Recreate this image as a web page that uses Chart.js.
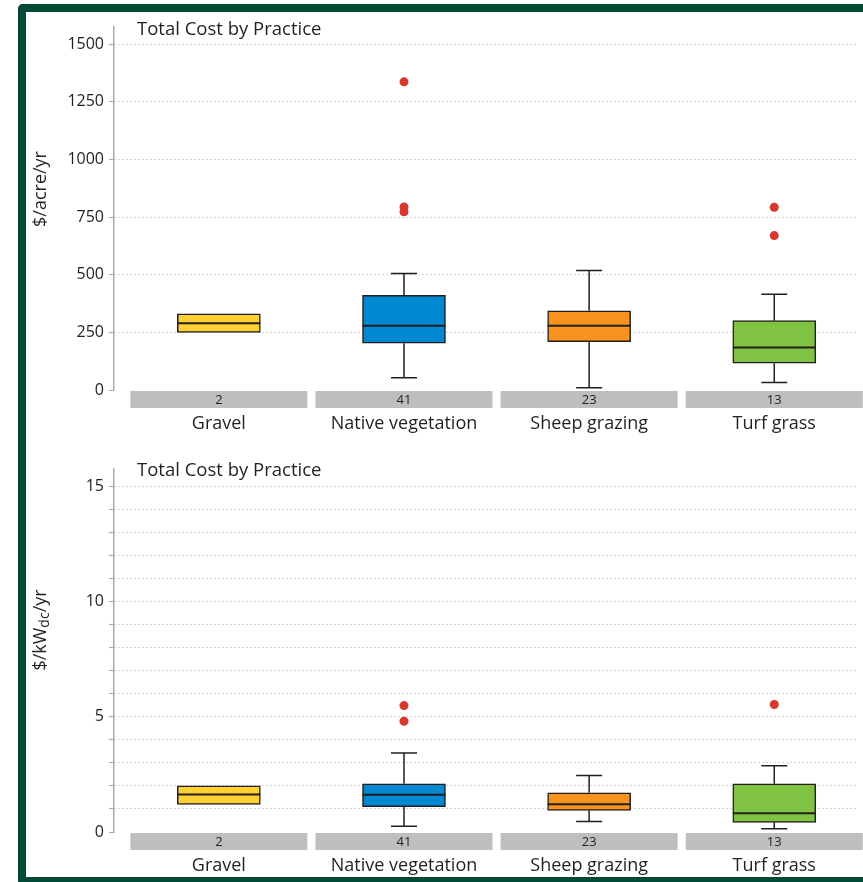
<!DOCTYPE html>
<html>
<head>
<meta charset="utf-8">
<script src="https://cdn.jsdelivr.net/npm/chart.js@4.4.1/dist/chart.umd.min.js"></script>
<style>
  html, body { margin: 0; padding: 0; background: #fff; }
  #wrap { position: relative; width: 863px; height: 882px; overflow: hidden; background: #fff; }
  #wrap canvas { position: absolute; left: 0; }
  #frame {
    position: absolute; left: 18px; top: 4px; width: 900px; height: 865px;
    border: 8px solid #034a36; border-right: none; border-radius: 5px 0 0 5px;
    pointer-events: none;
  }
</style>
</head>
<body>
<div id="wrap">
  <canvas id="acreChart" width="863" height="441" style="top:0"></canvas>
  <canvas id="kwChart" width="863" height="441" style="top:441px"></canvas>
  <div id="frame"></div>
</div>
<script>
const categories = ['Gravel', 'Native vegetation', 'Sheep grazing', 'Turf grass'];
const counts = [2, 41, 23, 13];
const boxColors = ['#fdd034', '#0088d1', '#f7931e', '#80c342'];

// $/acre/yr
const acreMin = [250, 53, 10, 33];
const acreQ1 = [250, 203, 210, 116];
const acreMedian = [290, 279, 279, 184];
const acreQ3 = [330, 411, 344, 301];
const acreMax = [330, 505, 518, 415];
const acreOutliers = [[], [1337, 794, 773], [], [793, 670]];

// $/kWdc/yr
const kwMin = [1.2, 0.25, 0.45, 0.14];
const kwQ1 = [1.2, 1.1, 0.94, 0.42];
const kwMedian = [1.63, 1.62, 1.2, 0.81];
const kwQ3 = [2.0, 2.09, 1.7, 2.09];
const kwMax = [2.0, 3.43, 2.45, 2.87];
const kwOutliers = [[], [5.48, 4.8], [], [5.53]];

const textColor = '#231f20';
Chart.defaults.font.family = '"Open Sans", sans-serif';
Chart.defaults.color = textColor;

// whiskers, caps and median lines
const boxParts = {
  id: 'boxParts',
  afterDatasetsDraw(chart, args, opts) {
    const { ctx, scales: { y } } = chart;
    const bars = chart.getDatasetMeta(0).data;
    ctx.save();
    ctx.strokeStyle = textColor;
    ctx.lineWidth = 1.5;
    bars.forEach((bar, i) => {
      const cx = bar.x;
      const half = bar.width / 2;
      const yq1 = y.getPixelForValue(opts.q1[i]);
      const yq3 = y.getPixelForValue(opts.q3[i]);
      ctx.beginPath();
      if (opts.max[i] > opts.q3[i]) {
        const yMax = y.getPixelForValue(opts.max[i]);
        ctx.moveTo(cx, yq3); ctx.lineTo(cx, yMax);
        ctx.moveTo(cx - 13, yMax); ctx.lineTo(cx + 13, yMax);
      }
      if (opts.min[i] < opts.q1[i]) {
        const yMin = y.getPixelForValue(opts.min[i]);
        ctx.moveTo(cx, yq1); ctx.lineTo(cx, yMin);
        ctx.moveTo(cx - 13, yMin); ctx.lineTo(cx + 13, yMin);
      }
      ctx.stroke();
      ctx.beginPath();
      ctx.lineWidth = 2;
      const yMed = y.getPixelForValue(opts.median[i]);
      ctx.moveTo(cx - half, yMed); ctx.lineTo(cx + half, yMed);
      ctx.stroke();
      ctx.lineWidth = 1.5;
    });
    ctx.restore();
  }
};

// count strips, chart title and axis title
const decor = {
  id: 'decor',
  afterDraw(chart, args, opts) {
    const { ctx, chartArea, scales: { x } } = chart;
    const unit = x.getPixelForValue(1) - x.getPixelForValue(0);
    ctx.save();
    counts.forEach((n, i) => {
      const cx = x.getPixelForValue(i);
      ctx.fillStyle = '#bcbec0';
      ctx.fillRect(cx - unit * 0.478, chartArea.bottom + 1, unit * 0.956, 17);
      ctx.fillStyle = textColor;
      ctx.font = '13px "Open Sans"';
      ctx.textAlign = 'center';
      ctx.textBaseline = 'middle';
      ctx.fillText(String(n), cx, chartArea.bottom + 10);
    });

    ctx.fillStyle = textColor;
    ctx.font = '18.5px "Open Sans"';
    ctx.textAlign = 'left';
    ctx.textBaseline = 'alphabetic';
    ctx.fillText(opts.title, 137, 35);

    ctx.translate(41, 189);
    ctx.rotate(-Math.PI / 2);
    ctx.textBaseline = 'middle';
    let total = 0;
    opts.yTitle.forEach(p => {
      ctx.font = p.size + 'px "Open Sans"';
      total += ctx.measureText(p.text).width;
    });
    let px = -total / 2;
    opts.yTitle.forEach(p => {
      ctx.font = p.size + 'px "Open Sans"';
      ctx.fillText(p.text, px, p.dy);
      px += ctx.measureText(p.text).width;
    });
    ctx.restore();
  }
};

function makeChart(id, s, outliers, yMax, step, labelEvery, padTop, axisH, yTitle) {
  const boxes = categories.map((c, i) => ({ x: i, y: [s.q1[i], s.q3[i]] }));
  const points = outliers.flatMap((arr, i) => arr.map(v => ({ x: i, y: v })));
  return new Chart(document.getElementById(id), {
    type: 'bar',
    data: {
      datasets: [
        {
          data: boxes,
          backgroundColor: boxColors,
          borderColor: textColor,
          borderWidth: 1.5,
          borderSkipped: false,
          barThickness: 83
        },
        {
          type: 'scatter',
          data: points,
          pointRadius: 4.5,
          pointBackgroundColor: '#d7372c',
          pointBorderWidth: 0
        }
      ]
    },
    options: {
      responsive: false,
      animation: false,
      layout: { padding: { top: padTop, left: 0, right: 0, bottom: 0 } },
      plugins: {
        legend: { display: false },
        tooltip: { enabled: false },
        boxParts: s,
        decor: { title: 'Total Cost by Practice', yTitle: yTitle }
      },
      scales: {
        x: {
          type: 'linear',
          offset: false,
          min: -0.5664,
          max: 3.455,
          grid: { display: false, drawTicks: false },
          border: { display: false },
          afterFit: sc => { sc.height = axisH; },
          ticks: {
            stepSize: 1,
            includeBounds: false,
            autoSkip: false,
            maxRotation: 0,
            padding: 23,
            font: { size: 18 },
            color: textColor,
            callback: v => categories[v] || ''
          }
        },
        y: {
          min: 0,
          max: yMax,
          afterFit: sc => { sc.width = 114; },
          grid: {
            color: c => c.tick && c.tick.value === 0 ? 'rgba(0,0,0,0)' : '#ababab',
            lineWidth: 1,
            tickColor: '#a7a9ac',
            tickLength: 5,
            tickWidth: 1.2
          },
          border: { display: true, color: '#a7a9ac', width: 1.5, dash: [1, 3] },
          ticks: {
            stepSize: step,
            includeBounds: false,
            padding: 5,
            font: { size: 16 },
            color: textColor,
            callback: v => (v % labelEvery === 0 ? v : '')
          }
        }
      }
    },
    plugins: [boxParts, decor]
  });
}

makeChart('acreChart',
  { min: acreMin, q1: acreQ1, median: acreMedian, q3: acreQ3, max: acreMax },
  acreOutliers, 1575, 250, 250, 27, 51,
  [{ text: '$/acre/yr', size: 18, dy: 0 }]);

makeChart('kwChart',
  { min: kwMin, q1: kwQ1, median: kwMedian, q3: kwQ3, max: kwMax },
  kwOutliers, 15.74, 1, 5, 28, 50,
  [{ text: '$/kW', size: 18, dy: 0 }, { text: 'dc', size: 14, dy: 4 }, { text: '/yr', size: 18, dy: 0 }]);
</script>
</body>
</html>
